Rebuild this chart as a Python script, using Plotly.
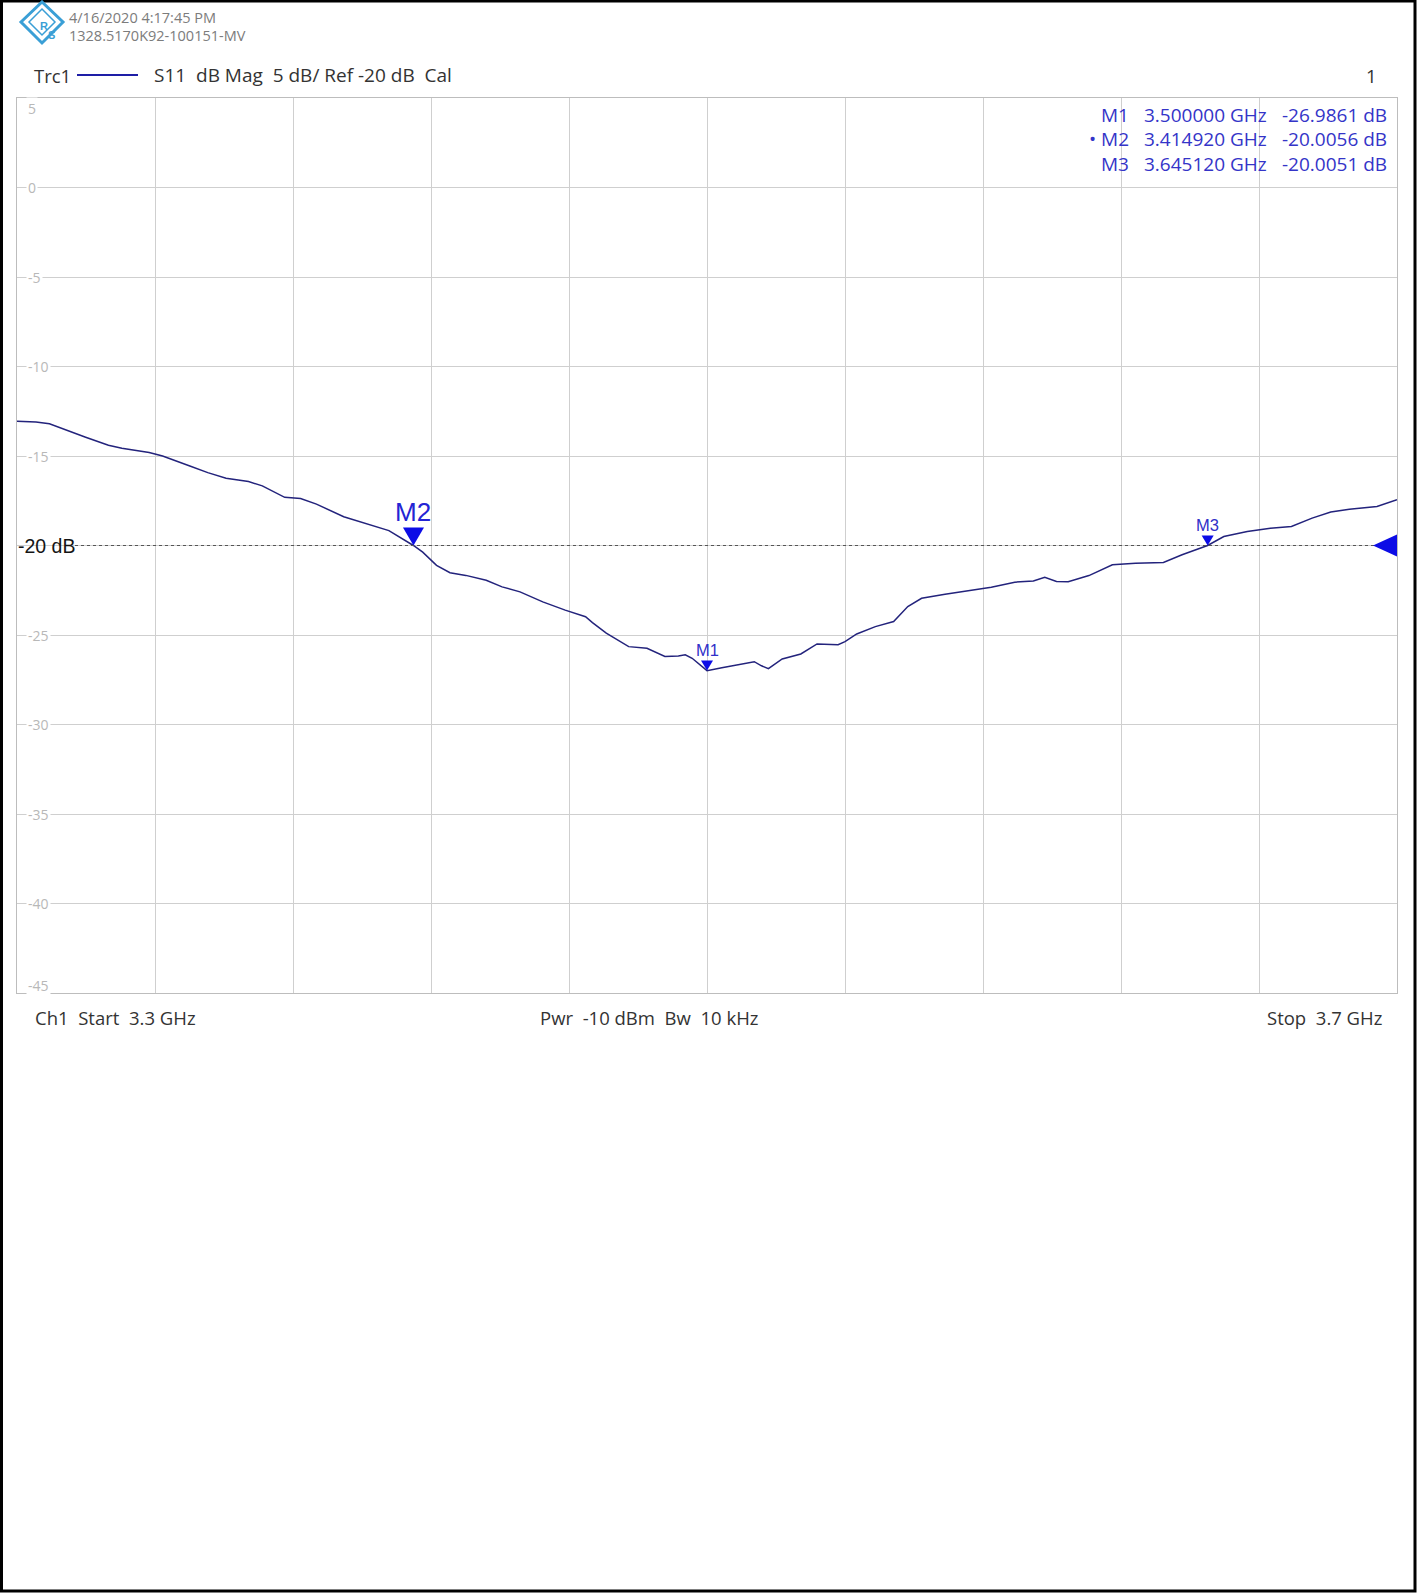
import plotly.graph_objects as go

# S11 trace
freq_ghz = [3.3000, 3.3055, 3.3094, 3.3147, 3.3199, 3.3265, 3.3304, 3.3383, 3.3422, 3.3501,
            3.3553, 3.3606, 3.3671, 3.3711, 3.3776, 3.3822, 3.3868, 3.3947, 3.4026, 3.4078,
            3.4149, 3.4176, 3.4216, 3.4255, 3.4301, 3.4360, 3.4406, 3.4458, 3.4524, 3.4589,
            3.4648, 3.4668, 3.4708, 3.4773, 3.4826, 3.4878, 3.4917, 3.4937, 3.4957, 3.5000,
            3.5043, 3.5084, 3.5110, 3.5137, 3.5158, 3.5178, 3.5218, 3.5272, 3.5319, 3.5380,
            3.5400, 3.5434, 3.5488, 3.5541, 3.5582, 3.5622, 3.5690, 3.5757, 3.5824, 3.5892,
            3.5946, 3.5979, 3.6013, 3.6047, 3.6107, 3.6175, 3.6242, 3.6323, 3.6377, 3.6451,
            3.6498, 3.6566, 3.6633, 3.6694, 3.6754, 3.6808, 3.6862, 3.6942, 3.7000]
s11_db = [-13.06, -13.10, -13.20, -13.60, -13.95, -14.40, -14.57, -14.80, -15.00, -15.56,
          -15.93, -16.24, -16.43, -16.67, -17.31, -17.37, -17.69, -18.39, -18.85, -19.17,
          -20.00, -20.37, -21.11, -21.52, -21.67, -21.94, -22.31, -22.59, -23.15, -23.61,
          -23.98, -24.31, -24.90, -25.65, -25.74, -26.20, -26.17, -26.11, -26.30, -26.99,
          -26.83, -26.68, -26.59, -26.49, -26.72, -26.88, -26.34, -26.06, -25.50, -25.54,
          -25.37, -24.94, -24.53, -24.25, -23.41, -22.95, -22.72, -22.54, -22.33, -22.05,
          -21.98, -21.77, -22.01, -22.03, -21.68, -21.08, -20.99, -20.95, -20.52, -20.00,
          -19.50, -19.22, -19.03, -18.94, -18.47, -18.13, -17.97, -17.82, -17.44]

y_ticks = [5, 0, -5, -10, -15, -20, -25, -30, -35, -40, -45]
y_tick_labels = ["5", "0", "-5", "-10", "-15", "", "-25", "-30", "-35", "-40", "-45"]

marker_names = ["M1", "M2", "M3"]
marker_freq_ghz = [3.500000, 3.414920, 3.645120]
marker_db = [-26.9861, -20.0056, -20.0051]
active_marker = "M2"

ref_level_db = -20
f_start, f_stop = 3.3, 3.7

NB = "\u00a0"
SEGOE = "Open Sans"
ARIAL = "Liberation Sans"

W, H = 1419, 1593
L, R, T, B = 17, 1397, 98, 993


def px(x):
    return (x - L) / (R - L)


def py(y):
    return (B - y) / (B - T)


fig = go.Figure()
fig.add_trace(go.Scatter(x=freq_ghz, y=s11_db, mode="lines",
                         line=dict(color="#23237c", width=1.5), hoverinfo="skip"))

axis_style = dict(showgrid=True, gridcolor="#cfcfcf", gridwidth=1, showticklabels=False,
                  ticks="", zeroline=False, showline=True, mirror=True,
                  linecolor="#bdbdbd", linewidth=1, fixedrange=True)
fig.update_xaxes(range=[f_start, f_stop], tick0=f_start, dtick=0.04, **axis_style)
fig.update_yaxes(range=[-45, 5], tick0=-45, dtick=5, **axis_style)

shapes = []
annotations = []

# page frame
shapes.append(dict(type="rect", xref="paper", yref="paper", x0=px(1.5), x1=px(1415),
                   y0=py(1), y1=py(1591), line=dict(color="black", width=3)))

# R&S logo
logo_c = "#3a9fd6"
shapes.append(dict(type="path", xref="paper", yref="paper",
                   path=f"M {px(21)} {py(22)} L {px(42)} {py(2)} L {px(63)} {py(22)} L {px(42)} {py(43)} Z",
                   line=dict(color=logo_c, width=3), fillcolor="white"))
shapes.append(dict(type="path", xref="paper", yref="paper",
                   path=f"M {px(29)} {py(22)} L {px(42)} {py(9)} L {px(55)} {py(22)} L {px(42)} {py(35)} Z",
                   line=dict(color=logo_c, width=1.5), fillcolor="white"))
annotations.append(dict(text="<b>R</b>", x=px(38), y=py(18), xref="paper", yref="paper",
                        showarrow=False, font=dict(family=ARIAL, size=11, color=logo_c)))
annotations.append(dict(text="<b>S</b>", x=px(46), y=py(27), xref="paper", yref="paper",
                        showarrow=False, font=dict(family=ARIAL, size=11, color=logo_c)))


def page_text(text, x, y, size, color, anchor="left", family=SEGOE):
    annotations.append(dict(text=text, x=px(x), y=py(y), xref="paper", yref="paper",
                            xanchor=anchor, yanchor="middle", showarrow=False,
                            font=dict(family=family, size=size, color=color)))


# header
page_text("4/16/2020 4:17:45 PM", 67, 17, 14.5, "#7c7c7c")
page_text("1328.5170K92-100151-MV", 67, 36, 14.5, "#7c7c7c")
page_text("Trc1", 32, 75, 18.5, "#333333")
shapes.append(dict(type="line", xref="paper", yref="paper", x0=px(77), x1=px(138),
                   y0=py(75), y1=py(75), line=dict(color="#1e1ea6", width=2)))
page_text(f"S11{NB}{NB}dB Mag{NB}{NB}5 dB/ Ref -20 dB{NB}{NB}Cal", 152, 75, 19, "#333333")
page_text("1", 1379, 75, 18.5, "#333333", anchor="right")

# marker table
tbl_rows = [115, 139, 164]
for name, f, v, yy in zip(marker_names, marker_freq_ghz, marker_db, tbl_rows):
    lbl = ("\u2022 " + name) if name == active_marker else name
    page_text(lbl, 1131, yy, 19, "#3434c8", anchor="right")
    page_text(f"{f:.6f} GHz", 1269, yy, 19, "#3434c8", anchor="right")
    page_text(f"{v:.4f} dB", 1389, yy, 19, "#3434c8", anchor="right")

# footer
page_text(f"Ch1{NB}{NB}Start{NB}{NB}3.3 GHz", 33, 1017, 18.5, "#333333")
page_text(f"Pwr{NB}{NB}-10 dBm{NB}{NB}Bw{NB}{NB}10 kHz", 538, 1017, 18.5, "#333333")
page_text(f"Stop{NB}{NB}3.7 GHz", 1384, 1017, 18.5, "#333333", anchor="right")

# y tick labels drawn inside the grid
for v, t in zip(y_ticks, y_tick_labels):
    if not t:
        continue
    shift = -10 if v == 5 else (8 if v == -45 else 0)
    annotations.append(dict(text=t, x=px(26), y=v, xref="paper", yref="y", xanchor="left",
                            yanchor="middle", yshift=shift, showarrow=False,
                            bgcolor="white", borderpad=1,
                            font=dict(family=SEGOE, size=14, color="#b8b8b8")))

# reference level line and label
shapes.append(dict(type="line", xref="paper", yref="y", x0=px(75), x1=1,
                   y0=ref_level_db, y1=ref_level_db,
                   line=dict(color="#555555", width=1, dash="dot")))
annotations.append(dict(text="-20 dB", x=px(16), y=ref_level_db, xref="paper", yref="y",
                        xanchor="left", yanchor="middle", showarrow=False,
                        font=dict(family=ARIAL, size=19.5, color="#151515")))
shapes.append(dict(type="path", xref="x", yref="y", xsizemode="pixel", ysizemode="pixel",
                   xanchor=f_stop, yanchor=ref_level_db,
                   path="M 0 11 L -24 0 L 0 -11 Z", line=dict(width=0), fillcolor="#0c0ce6"))

# markers
for name, f, v in zip(marker_names, marker_freq_ghz, marker_db):
    big = name == active_marker
    hw, h = (10.5, 18) if big else (6, 10)
    shapes.append(dict(type="path", xref="x", yref="y", xsizemode="pixel", ysizemode="pixel",
                       xanchor=f, yanchor=v, path=f"M 0 0 L {-hw} {h} L {hw} {h} Z",
                       line=dict(width=0), fillcolor="#0c0ce6"))
    annotations.append(dict(text=name, x=f, y=v, xref="x", yref="y", showarrow=False,
                            yanchor="middle", yshift=34 if big else 21,
                            font=dict(family=ARIAL, size=26 if big else 16.5,
                                      color="#2424d4" if big else "#3030c8")))

fig.update_layout(width=W, height=H, margin=dict(l=L, r=W - R, t=T, b=H - B, pad=0),
                  paper_bgcolor="white", plot_bgcolor="white", showlegend=False,
                  shapes=shapes, annotations=annotations)

fig.write_html("out.html", config={"displayModeBar": False},
               post_script="document.body.style.margin='0';")
